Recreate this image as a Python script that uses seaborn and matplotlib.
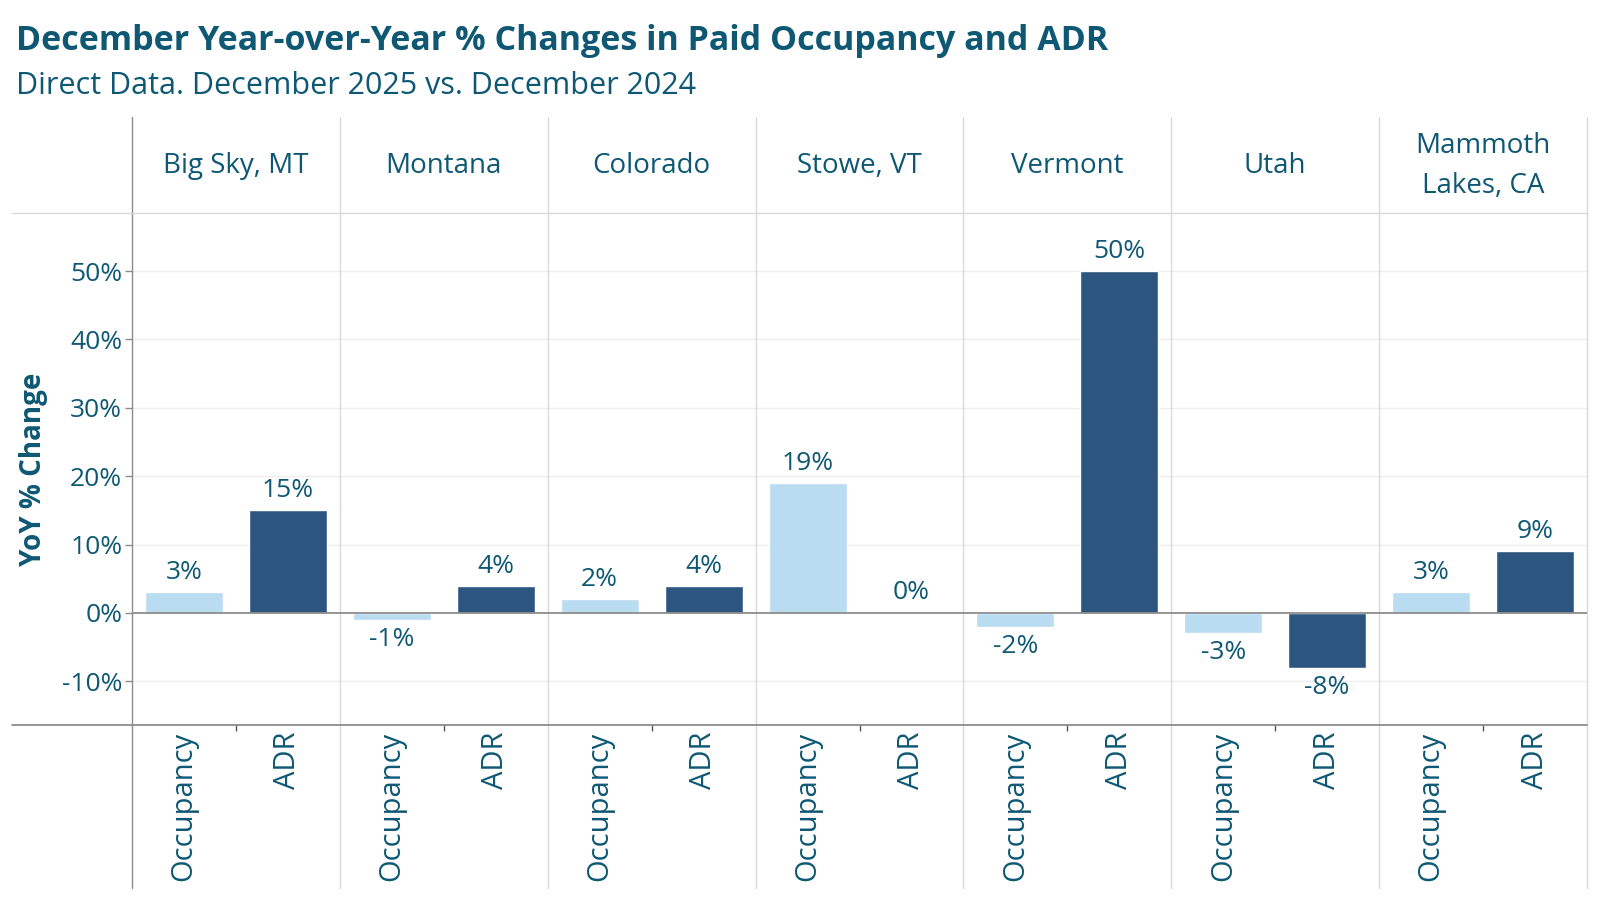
import numpy as np
import pandas as pd
import matplotlib.pyplot as plt
import seaborn as sns
from matplotlib.lines import Line2D

# data
regions = ["Big Sky, MT", "Montana", "Colorado", "Stowe, VT", "Vermont", "Utah", "Mammoth\nLakes, CA"]
measures = ["Occupancy", "ADR"]
occupancy = [3, -1, 2, 19, -2, -3, 3]
adr = [15, 4, 4, 0.2, 50, -8, 9]
yticks = [-10, 0, 10, 20, 30, 40, 50]

rows = []
for r, o, a in zip(regions, occupancy, adr):
    rows.append({"region": r, "measure": "Occupancy", "value": o})
    rows.append({"region": r, "measure": "ADR", "value": a})
df = pd.DataFrame(rows)
df["slot"] = df["region"] + "|" + df["measure"]

TEXT = "#0E5874"
LIGHT = "#BADCF1"
DARK = "#2C5680"
GRID = "#EEEEEE"
SEP = "#D9D9D9"
AXIS = "#8C8C8C"

sns.set_theme(style="white")
plt.rcParams["font.family"] = ["Open Sans", "DejaVu Sans"]

W, H = 1600, 900
fig = plt.figure(figsize=(16, 9), dpi=100)
L, R, T, B = 132, 1587, 213, 725
ax = fig.add_axes([L / W, 1 - B / H, (R - L) / W, (B - T) / H])

sns.barplot(data=df, x="slot", y="value", hue="measure", order=list(df["slot"]),
            palette={"Occupancy": LIGHT, "ADR": DARK}, dodge=False, width=0.75,
            ax=ax, legend=False, saturation=1)

ax.set_xlim(-0.5, len(df) - 0.5)
ax.set_ylim(-16.4, 58.5)
ax.set_yticks(yticks)
ax.set_yticklabels([f"{t}%" for t in yticks], color=TEXT, fontsize=19)
ax.set_xticks(range(len(df)))
ax.set_xticklabels(df["measure"], rotation=90, color=TEXT, fontsize=21, va="top")
ax.tick_params(axis="x", length=0, pad=5)
ax.tick_params(axis="y", length=5, color=AXIS, width=1, pad=2, left=True)
ax.set_xticks(np.arange(0.5, len(df), 2), minor=True)
ax.tick_params(axis="x", which="minor", length=4, color="#555555", bottom=True)
ax.set_xlabel("")
ax.set_ylabel("YoY % Change", color=TEXT, fontsize=20, fontweight="bold")
ax.yaxis.set_label_coords(-0.058, 0.5)

for s in ax.spines.values():
    s.set_visible(False)
for t in yticks:
    if t != 0:
        ax.axhline(t, color=GRID, lw=1, zorder=0)
ax.axhline(0, color=AXIS, lw=1.3, zorder=3)

# value labels
for i, v in enumerate(df["value"]):
    lab = f"{round(v):.0f}%"
    if v >= 0:
        ax.annotate(lab, (i, v), xytext=(0, 5), textcoords="offset points",
                    ha="center", va="bottom", color=TEXT, fontsize=19)
    else:
        ax.annotate(lab, (i, v), xytext=(0, -5), textcoords="offset points",
                    ha="center", va="top", color=TEXT, fontsize=19)

# panel separators and frame
xt = ax.get_xaxis_transform()
ytop = (B - 117) / (B - T)
ybot = (B - 888) / (B - T)
for k in range(len(regions) + 1):
    xp = 2 * k - 0.5
    col = AXIS if k == 0 else SEP
    ax.plot([xp, xp], [ybot, ytop], transform=xt, color=col, lw=1, clip_on=False, zorder=1)

fig.add_artist(Line2D([12 / W, R / W], [1 - T / H] * 2, transform=fig.transFigure, color=SEP, lw=1))
fig.add_artist(Line2D([12 / W, R / W], [1 - B / H] * 2, transform=fig.transFigure, color=AXIS, lw=1.3))

# panel headers
for k, r in enumerate(regions):
    ax.text(2 * k + 0.5, (B - 166) / (B - T), r, transform=xt, ha="center", va="center",
            color=TEXT, fontsize=20, linespacing=1.55)

fig.text(16 / W, 1 - 41 / H, "December Year-over-Year % Changes in Paid Occupancy and ADR",
         color=TEXT, fontsize=24.5, fontweight="bold", ha="left", va="center")
fig.text(16 / W, 1 - 86 / H, "Direct Data. December 2025 vs. December 2024",
         color=TEXT, fontsize=22, ha="left", va="center")

fig.savefig("out.png", dpi=100, facecolor="white")
